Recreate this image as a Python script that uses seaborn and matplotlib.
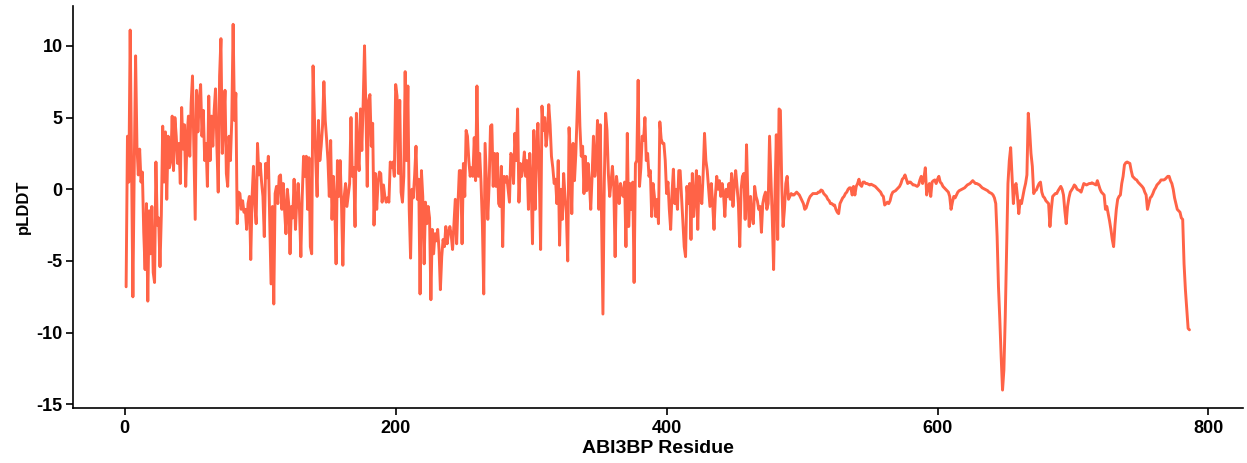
import numpy as np
import pandas as pd
import seaborn as sns
import matplotlib.pyplot as plt

# per-residue pLDDT difference
plddt_1_250 = [
    -6.8, 3.7, 0.5, 11.1, 2.0, -7.5, 1.5, 9.3, 3.0, 1.0,
    2.8, 0.5, 1.2, -3.0, -5.6, -1.0, -7.8, -1.5, -4.5, -1.2,
    -5.8, -6.5, 1.9, -2.5, -2.0, -5.4, -1.8, 4.4, 0.5, 4.0,
    -0.7, 3.7, 1.5, 2.0, 5.1, 1.3, 5.0, 3.7, 1.8, 3.2,
    0.4, 5.7, 2.8, 4.5, 0.2, 3.7, 5.1, 2.3, 6.0, 7.9,
    3.0, -2.1, 6.9, 4.0, 6.2, 7.3, 3.7, 5.5, 2.0, 3.2,
    0.2, 6.5, 2.0, 5.1, 3.0, 5.5, 7.0, 3.0, -0.2, 7.9,
    10.5, 2.5, 4.5, 6.9, 1.1, 0.2, 3.7, 2.0, 4.8, 11.5,
    4.8, 6.7, -2.4, -0.2, -0.3, -1.4, -0.8, -1.6, -1.4, -2.8,
    -1.0, -0.5, -4.9, -0.5, 1.6, -1.0, -2.4, 3.2, 1.0, 1.8,
    0.5, -0.5, -3.3, 1.8, 0.8, 2.3, -2.0, -6.6, -1.2, -8.0,
    -0.3, 0.2, -1.0, 0.9, 1.0, -1.4, 0.4, -1.5, -3.1, 0.0,
    -1.0, -4.5, -1.2, -2.0, 0.7, -2.8, -0.8, 0.4, -1.5, -4.7,
    -0.5, 2.3, 0.9, 2.3, -1.4, 2.2, -4.0, -4.5, 8.6, 5.1,
    2.0, -0.5, 4.8, 2.0, 3.0, 4.4, 7.5, 4.8, 3.5, 2.0,
    -0.5, 3.4, -2.1, 0.9, -1.0, -5.2, 2.0, -0.5, 2.0, -1.0,
    -5.3, -0.5, 0.4, -1.2, -0.4, 0.4, 5.0, 0.9, 1.5, -2.6,
    5.3, 2.5, 1.3, 5.6, 2.7, 6.0, 10.0, 5.6, 0.2, 6.2,
    6.6, 3.0, 4.6, -2.5, 1.1, -1.4, 0.5, 1.2, 1.1, -0.9,
    0.3, -0.5, -0.9, -0.6, -0.9, 1.9, 1.5, 1.9, 0.9, 7.3,
    6.5, 1.1, 6.2, -0.2, -0.9, 0.9, 8.2, 2.0, 7.2, -1.4,
    -4.8, 0.0, -0.6, 1.0, 3.0, -0.7, 0.7, -7.3, 1.3, -0.5,
    -5.2, -0.9, -2.4, -1.2, -2.0, -7.7, -2.8, -4.5, -3.1, -3.6,
    -2.8, -4.2, -7.0, -4.7, -3.5, -4.0, -2.6, -3.8, -3.0, -2.6,
    -3.2, -4.2, -2.4, -0.7, -3.8, -1.0, 1.3, 1.3, -3.8, 1.8,
]

plddt_251_490 = [
    -0.5, 4.1, 3.7, 2.0, 0.9, 1.5, 0.9, 3.6, 0.6, 7.2,
    0.9, 2.5, 0.5, -2.4, -7.3, 3.2, 0.5, -2.1, 0.4, 4.4,
    4.5, 0.2, 2.5, 0.2, 2.5, -1.0, -1.2, 1.6, -4.0, 0.9,
    0.5, 0.9, 0.0, -0.9, 2.5, 2.3, 0.4, 3.9, 2.0, 5.6,
    -0.9, 1.8, 0.9, 1.5, 2.6, 0.9, 2.0, -1.4, 2.5, 0.5,
    -3.8, 4.1, -1.4, 2.5, 4.6, 1.0, -4.2, 5.8, 4.1, 5.0,
    3.0, 3.9, 5.9, 4.5, 2.3, 1.5, 0.4, 0.7, -1.0, 2.0,
    -3.9, 0.0, -2.1, 1.1, -0.5, -1.7, -5.0, 4.3, 2.3, -1.7,
    3.2, 0.6, 2.5, 5.3, 8.2, 4.4, 2.3, 3.0, -0.3, 2.3,
    -0.1, 1.8, 0.5, -1.4, 0.9, 3.7, 0.9, 2.0, 4.8, -1.4,
    4.5, -1.9, -8.7, 0.5, 5.3, 4.1, 1.1, -0.5, 0.5, 1.6,
    0.2, -4.7, 0.9, 0.0, -1.0, 0.4, -0.3, -0.5, 0.5, -4.0,
    3.9, -2.6, 0.4, -1.4, 0.5, -6.5, 1.8, 2.0, 7.6, 0.2,
    1.5, 3.7, 3.4, 5.0, 2.0, 2.5, 0.9, 1.3, -1.9, 0.4,
    -0.5, -1.9, -0.7, -2.4, 4.7, 3.5, 3.2, 3.2, 2.0, -0.3,
    0.5, -1.4, -2.8, -0.3, 1.4, -1.0, 0.0, -1.4, 1.3, 1.3,
    -0.5, -2.4, -4.0, -4.7, 0.2, -1.0, 0.4, -3.5, 1.1, -1.9,
    -0.5, 1.3, -2.8, 0.9, -0.5, -1.0, 1.1, 3.9, 2.0, 1.3,
    0.0, -1.2, 0.4, -1.0, -2.8, -0.5, 0.9, 0.0, 0.6, -0.5,
    0.4, -0.3, -1.9, 0.0, -0.5, 0.4, -0.7, 1.1, -1.2, 0.3,
    1.3, 0.2, -1.0, -4.0, 0.0, 0.9, 1.1, -2.1, 3.1, -0.5,
    -2.6, -0.5, -1.9, -2.4, 0.2, -0.5, -0.8, -1.4, -1.2, -3.0,
    -1.0, -0.5, -0.2, -1.4, -1.0, 3.7, 0.9, -2.0, -5.6, -0.3,
    3.8, -3.5, 5.6, 5.5, 0.4, -2.6, -1.4, 0.4, 0.9, -0.7,
]

plddt_491_786 = [
    -0.5, -0.3, -0.4, -0.4, -0.3, -0.2, -0.3, -0.4, -0.6, -0.8,
    -1.0, -1.4, -1.3, -1.0, -0.7, -0.5, -0.4, -0.3, -0.3, -0.3,
    -0.3, -0.2, -0.2, -0.05, -0.1, -0.3, -0.4, -0.5, -0.7, -0.8,
    -1.0, -1.0, -1.1, -1.1, -1.4, -1.6, -1.7, -1.0, -0.8, -0.6,
    -0.5, -0.3, -0.2, 0.0, 0.1, 0.1, -0.4, 0.2, -0.4, 0.2,
    0.4, 0.7, 0.3, 0.2, 0.5, 0.5, 0.4, 0.4, 0.35, 0.3,
    0.35, 0.3, 0.25, 0.2, 0.1, 0.0, -0.1, -0.2, -0.4, -0.5,
    -1.1, -1.0, -0.9, -1.0, -0.8, -0.4, -0.2, -0.15, -0.1, 0.0,
    0.1, 0.2, 0.4, 0.7, 0.8, 1.0, 0.7, 0.4, 0.5, 0.5,
    0.4, 0.3, 0.3, 0.25, 0.2, 0.3, 0.65, 0.9, 0.4, 0.8,
    1.5, -0.4, 0.1, 0.4, -0.5, 0.5, 0.6, 0.65, 0.4, 0.7,
    0.9, 0.5, 0.4, 0.2, 0.1, 0.0, -0.1, -0.2, -0.5, -1.4,
    -0.9, -0.5, -0.6, -0.4, -0.2, -0.1, -0.05, 0.0, 0.05, 0.1,
    0.2, 0.3, 0.35, 0.4, 0.5, 0.6, 0.5, 0.4, 0.4, 0.35,
    0.3, 0.2, 0.1, 0.05, 0.0, -0.05, -0.1, -0.2, -0.25, -0.3,
    -0.4, -0.6, -1.0, -3.3, -6.8, -9.1, -11.7, -14.0, -12.6, -8.9,
    -4.2, 0.4, 2.0, 2.9, 1.0, -1.0, 0.2, 0.4, -0.5, -1.7,
    -0.8, -1.0, -0.5, 0.0, 0.4, 1.0, 5.3, 4.1, 2.5, 1.6,
    -0.3, -0.1, -0.05, 0.2, 0.4, 0.5, -0.2, -0.5, -0.6, -0.8,
    -0.9, -1.0, -2.6, -1.4, -0.5, -0.4, -0.3, -0.3, -0.1, 0.05,
    0.2, 0.0, -0.4, -1.5, -2.4, -1.2, -0.6, -0.2, -0.05, 0.1,
    0.3, 0.2, 0.0, -0.05, -0.1, -0.2, 0.1, 0.4, 0.35, 0.3,
    0.35, 0.4, 0.4, 0.45, 0.4, 0.35, 0.3, 0.6, 0.3, 0.0,
    -0.2, -0.3, -0.4, -1.4, -1.2, -1.7, -2.2, -2.8, -3.5, -4.0,
    -2.5, -1.4, -0.7, -0.5, -0.4, 0.4, 0.9, 1.7, 1.85, 1.9,
    1.85, 1.8, 1.3, 0.9, 0.8, 0.7, 0.65, 0.5, 0.4, 0.3,
    0.2, 0.07, -0.2, -0.4, -1.4, -1.0, -0.6, -0.5, -0.3, -0.05,
    0.1, 0.3, 0.4, 0.5, 0.65, 0.65, 0.65, 0.7, 0.8, 0.9,
    0.9, 0.6, 0.4, 0.0, -0.6, -1.0, -1.4, -1.5, -1.6, -2.0,
    -2.1, -5.2, -7.0, -8.4, -9.7, -9.8,
]

x_ticks = [0, 200, 400, 600, 800]
y_ticks = [-15, -10, -5, 0, 5, 10]

plddt = plddt_1_250 + plddt_251_490 + plddt_491_786
df = pd.DataFrame({"residue": np.arange(1, len(plddt) + 1), "pLDDT": plddt})

sns.set_style("ticks")
plt.rcParams['font.family'] = ['Liberation Sans', 'DejaVu Sans']
plt.rcParams['axes.unicode_minus'] = False

fig = plt.figure(figsize=(12.47, 4.63), dpi=100)
ax = fig.add_axes([0.0585, 0.118, 0.938, 0.869])
sns.lineplot(data=df, x="residue", y="pLDDT", color="tomato", linewidth=2.1, ax=ax)

# ggplot-like 5% expansion
span_x = df.residue.max() - df.residue.min()
span_y = df.pLDDT.max() - df.pLDDT.min()
ax.set_xlim(df.residue.min() - 0.05 * span_x, df.residue.max() + 0.05 * span_x)
ax.set_ylim(df.pLDDT.min() - 0.05 * span_y, df.pLDDT.max() + 0.05 * span_y)
ax.set_xticks(x_ticks)
ax.set_yticks(y_ticks)
sns.despine(ax=ax)
for s in ["left", "bottom"]:
    ax.spines[s].set_linewidth(1.2)
    ax.spines[s].set_color("black")
ax.tick_params(length=5, width=1.2, color="black", labelsize=13, labelcolor="black")
ax.tick_params(axis="y", pad=2.5)
for lab in ax.get_xticklabels() + ax.get_yticklabels():
    lab.set_fontweight("bold")
ax.set_xlabel("ABI3BP Residue", fontsize=14, fontweight="bold", color="black", labelpad=2)
ax.set_ylabel("pLDDT", fontsize=12, fontweight="bold", color="black", labelpad=4)

fig.savefig("out.png", dpi=100)
